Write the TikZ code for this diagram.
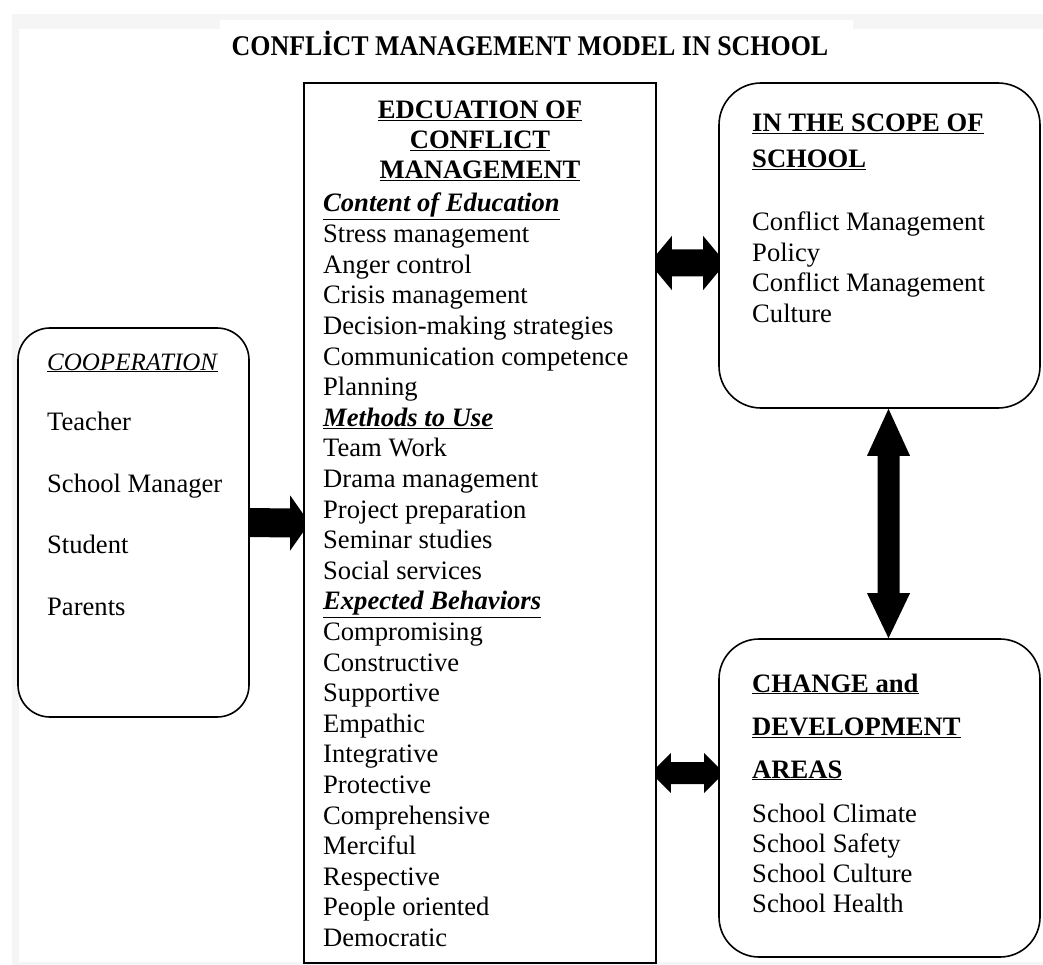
\documentclass[tikz,border=0pt]{standalone}
\usepackage{fontspec}
\setmainfont{Liberation Serif}
\usetikzlibrary{calc}
\begin{document}
\begin{tikzpicture}[x=1pt,y=-1pt,
  box/.style={draw=black, line width=1.6pt, inner sep=0pt, fill=white},
  txt/.style={anchor=base west, inner sep=0pt, font=\fontsize{26.6}{30.6}\selectfont},
  ctxt/.style={anchor=base, inner sep=0pt, font=\fontsize{26.6}{30.6}\selectfont\bfseries},
  arr/.style={fill=black}
]
\useasboundingbox (0,0) rectangle (1043,965);
% faint scan frame
\fill[gray!8] (12,14) rectangle (1043,965);
\fill[white] (19,29) rectangle (1043,962);
\fill[white] (220,20) rectangle (853,29);

% title
\node[anchor=base, inner sep=0pt, font=\fontsize{28.5}{32}\selectfont\bfseries] (title) at (530,56) {\scalebox{0.91}[1]{CONFLİCT MANAGEMENT MODEL IN SCHOOL}};

% boxes
\node[box, rounded corners=32pt, minimum width=231pt, minimum height=389pt] (coop) at (133.5,522.5) {};
\node[box, minimum width=352pt, minimum height=880pt] (mid) at (480,523) {};
\node[box, rounded corners=42pt, minimum width=321pt, minimum height=325pt] (scope) at (879.5,245.5) {};
\node[box, rounded corners=40pt, minimum width=321pt, minimum height=318pt] (change) at (879.5,798) {};

% cooperation text
\node[txt, font=\fontsize{25}{30}\selectfont] (c0) at (47,370) {\underline{\textit{COOPERATION}}};
\node[txt] (c1) at (47,430) {Teacher};
\node[txt] (c2) at (47,492) {School Manager};
\node[txt] (c3) at (47,553) {Student};
\node[txt] (c4) at (47,615) {Parents};

% middle header
\node[ctxt] (h1) at (480,119) {\underline{EDCUATION OF}};
\node[ctxt] (h2) at (480,149) {\underline{CONFLICT}};
\node[ctxt] (h3) at (480,179) {\underline{MANAGEMENT}};

% middle list
\foreach [count=\i from 0] \t in {
  {\underline{\textbf{\textit{Content of Education}}}},
  Stress management, Anger control, Crisis management,
  Decision-making strategies, Communication competence, Planning,
  {\underline{\textbf{\textit{Methods to Use}}}},
  Team Work, Drama management, Project preparation, Seminar studies, Social services,
  {\underline{\textbf{\textit{Expected Behaviors}}}},
  Compromising, Constructive, Supportive, Empathic, Integrative, Protective,
  Comprehensive, Merciful, Respective, People oriented, Democratic}
{
  \node[txt] (m\i) at (323,{212+30.6*\i}) {\t};
}

% scope text
\node[txt] (s0) at (752,132) {\underline{\textbf{IN THE SCOPE OF}}};
\node[txt] (s1) at (752,168) {\underline{\textbf{SCHOOL}}};
\node[txt] (s2) at (752,231) {Conflict Management};
\node[txt] (s3) at (752,262) {Policy};
\node[txt] (s4) at (752,292) {Conflict Management};
\node[txt] (s5) at (752,322) {Culture};

% change text
\node[txt] (d0) at (752,692) {\underline{\textbf{CHANGE and}}};
\node[txt] (d1) at (752,735) {\underline{\textbf{DEVELOPMENT}}};
\node[txt] (d2) at (752,778) {\underline{\textbf{AREAS}}};
\node[txt] (d3) at (752,822) {School Climate};
\node[txt] (d4) at (752,852) {School Safety};
\node[txt] (d5) at (752,882) {School Culture};
\node[txt] (d6) at (752,912) {School Health};

% arrow cooperation -> middle
\fill[arr] ($(coop.east)+(0,-14.5)$) -- ($(mid.west)+(-13,-14.5)$) -- ($(mid.west)+(-13,-27.5)$)
  -- ($(mid.west)+(0,-9)$) -- ($(mid.west)+(0,9)$) -- ($(mid.west)+(-13,27.5)$)
  -- ($(mid.west)+(-13,14.5)$) -- ($(coop.east)+(0,14.5)$) -- cycle;

% double arrow middle <-> scope
\coordinate (aL) at ([yshift=260pt]mid.east);
\coordinate (aR) at ([yshift=-17.5pt]scope.west);
\fill[arr] ($(aL)+(0,-9)$) -- ($(aL)+(15,-27)$) -- ($(aL)+(15,-13.5)$) -- ($(aR)+(-15,-13.5)$)
  -- ($(aR)+(-15,-27)$) -- ($(aR)+(0,-9)$) -- ($(aR)+(0,9)$) -- ($(aR)+(-15,27)$)
  -- ($(aR)+(-15,13.5)$) -- ($(aL)+(15,13.5)$) -- ($(aL)+(15,27)$) -- ($(aL)+(0,9)$) -- cycle;

% double arrow middle <-> change
\coordinate (bL) at ([yshift=-250pt]mid.east);
\coordinate (bR) at ([yshift=25pt]change.west);
\fill[arr] ($(bL)+(0,-6)$) -- ($(bL)+(14,-20)$) -- ($(bL)+(14,-11)$) -- ($(bR)+(-14,-11)$)
  -- ($(bR)+(-14,-20)$) -- ($(bR)+(0,-6)$) -- ($(bR)+(0,6)$) -- ($(bR)+(-14,20)$)
  -- ($(bR)+(-14,11)$) -- ($(bL)+(14,11)$) -- ($(bL)+(14,20)$) -- ($(bL)+(0,6)$) -- cycle;

% vertical double arrow scope <-> change
\coordinate (vT) at ([xshift=9pt]scope.south);
\coordinate (vB) at ([xshift=9pt]change.north);
\fill[arr] (vT) -- ($(vT)+(21.5,47)$) -- ($(vT)+(11,47)$) -- ($(vB)+(11,-45)$)
  -- ($(vB)+(21.5,-45)$) -- (vB) -- ($(vB)+(-21.5,-45)$) -- ($(vB)+(-11,-45)$)
  -- ($(vT)+(-11,47)$) -- ($(vT)+(-21.5,47)$) -- cycle;
\end{tikzpicture}
\end{document}
